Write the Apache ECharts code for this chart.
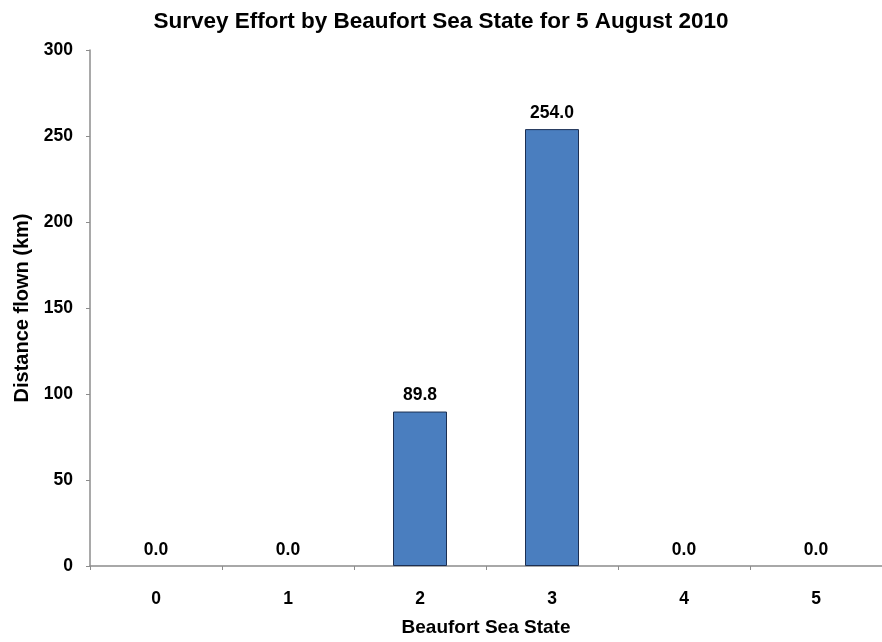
<!DOCTYPE html>
<html>
<head>
<meta charset="utf-8">
<script src="https://cdn.jsdelivr.net/npm/echarts@6/dist/echarts.min.js"></script>
<style>html,body{margin:0;padding:0;background:#fff;}#c{width:882px;height:642px;}</style>
</head>
<body>
<div id="c"></div>
<script>
var categories = ['0', '1', '2', '3', '4', '5'];
var distances = [0.0, 0.0, 89.8, 254.0, 0.0, 0.0];
var yTicks = [0, 50, 100, 150, 200, 250, 300];

var font = '"Liberation Sans", Arial, sans-serif';
var chart = echarts.init(document.getElementById('c'), null, {renderer: 'canvas'});
var barData = distances.map(function (v) {
  return {value: v, itemStyle: {borderWidth: v === 0 ? 0 : 1}};
});
chart.setOption({
  animation: false,
  backgroundColor: '#ffffff',
  title: {
    text: 'Survey Effort by Beaufort Sea State for 5 August 2010',
    left: 'center', top: 5,
    textStyle: {fontFamily: font, fontWeight: 'bold', fontSize: 22.5, color: '#000'}
  },
  grid: {left: 90, top: 50, width: 800, height: 521, containLabel: false},
  xAxis: {
    type: 'category', data: categories,
    name: 'Beaufort Sea State', nameLocation: 'middle', nameGap: 52,
    nameTextStyle: {fontFamily: font, fontWeight: 'bold', fontSize: 19, color: '#000'},
    axisLine: {lineStyle: {color: '#8c8c8c', width: 1.5}},
    axisTick: {show: true, length: 4, lineStyle: {color: '#8c8c8c'}},
    axisLabel: {fontFamily: font, fontWeight: 'bold', fontSize: 17.5, color: '#000', margin: 24}
  },
  yAxis: {
    type: 'value', min: yTicks[0], max: yTicks[yTicks.length - 1], interval: 50,
    name: 'Distance flown (km)', nameLocation: 'middle', nameGap: 58, nameRotate: 90,
    nameTextStyle: {fontFamily: font, fontWeight: 'bold', fontSize: 20, color: '#000', padding: [0, 0, 0, 0]},
    axisLine: {show: true, lineStyle: {color: '#8c8c8c', width: 1.5}},
    axisTick: {show: true, length: 4, lineStyle: {color: '#8c8c8c'}},
    splitLine: {show: false},
    axisLabel: {fontFamily: font, fontWeight: 'bold', fontSize: 17.5, color: '#000', margin: 17}
  },
  series: [{
    type: 'bar', data: barData, barWidth: 54,
    itemStyle: {color: '#4a7ebf', borderColor: '#1c2f52', borderWidth: 1},
    label: {
      show: true, position: 'top', distance: 7,
      formatter: function (p) { return p.value.toFixed(1); },
      fontFamily: font, fontWeight: 'bold', fontSize: 17.5, color: '#000'
    }
  }]
});
</script>
</body>
</html>
